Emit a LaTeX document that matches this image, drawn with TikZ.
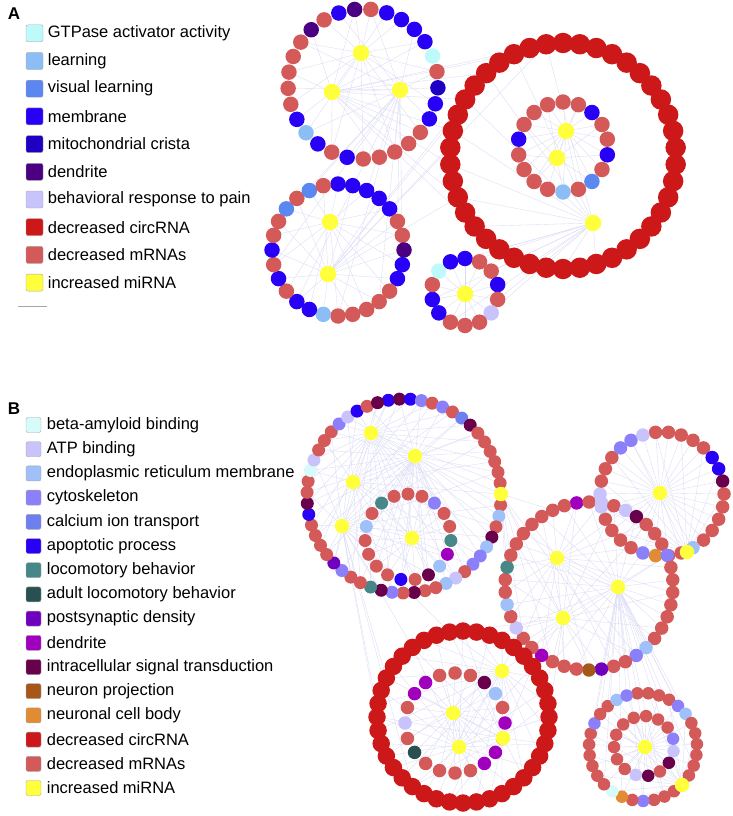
\documentclass[tikz,border=0pt]{standalone}
\usepackage{fontspec}
\setmainfont{Liberation Sans}
\usetikzlibrary{positioning,calc}
\pgfdeclarelayer{background}
\pgfsetlayers{background,main}

% panel A categories
\definecolor{gtp}{RGB}{190,250,250}
\definecolor{lrn}{RGB}{140,190,245}
\definecolor{vis}{RGB}{90,135,240}
\definecolor{mem}{RGB}{40,0,245}
\definecolor{mito}{RGB}{30,0,195}
\definecolor{dendA}{RGB}{75,0,130}
\definecolor{pain}{RGB}{200,195,250}
\definecolor{circ}{RGB}{204,24,24}
\definecolor{mrna}{RGB}{212,90,90}
\definecolor{mir}{RGB}{255,255,60}
% panel B categories
\definecolor{abeta}{RGB}{215,250,250}
\definecolor{atp}{RGB}{200,195,250}
\definecolor{er}{RGB}{160,192,250}
\definecolor{cyto}{RGB}{140,128,250}
\definecolor{calc}{RGB}{110,128,240}
\definecolor{apop}{RGB}{40,0,245}
\definecolor{loco}{RGB}{72,135,135}
\definecolor{aloco}{RGB}{40,80,80}
\definecolor{psd}{RGB}{110,0,190}
\definecolor{dendB}{RGB}{160,0,190}
\definecolor{sig}{RGB}{105,0,75}
\definecolor{proj}{RGB}{165,88,25}
\definecolor{body}{RGB}{225,140,50}
\definecolor{linkc}{RGB}{218,218,245}

\begin{document}
\begin{tikzpicture}[x=1pt,y=-1pt,
  gene/.style={circle,inner sep=0pt,minimum size=15.5pt},
  mirna/.style={circle,fill=mir,inner sep=0pt,minimum size=16.5pt},
  key/.style={rounded corners=2pt,draw=gray!70,line width=0.4pt,inner sep=0pt,minimum size=17pt},
  keytext/.style={inner sep=0pt,anchor=west,font=\fontsize{16.5}{18}\selectfont},
  panel/.style={inner sep=0pt,font=\bfseries\fontsize{17}{19}\selectfont},
  link/.style={draw=linkc,line width=0.35pt}]
\useasboundingbox (0,0) rectangle (733,816);

% ---------------- panel A
\node[panel] (labA) at (14,14) {A};
\foreach \c/\t [count=\i] in {gtp/GTPase activator activity, lrn/learning, vis/visual learning,
  mem/membrane, mito/mitochondrial crista, dendA/dendrite, pain/behavioral response to pain,
  circ/decreased circRNA, mrna/decreased mRNAs, mir/increased miRNA} {
  \node[key,fill=\c] (keyA\i) at (34.5,{33.3+(\i-1)*27.7}) {};
  \node[keytext,right=4.5pt of keyA\i] (txtA\i) {\t};
}
\coordinate (barL) at (18,306);
\coordinate (barR) at (47,306);
\draw[gray!70,line width=1pt] (barL) -- (barR);

% ring A1
\foreach \c [count=\i] in {mrna,mem,mem,mem,mem,gtp,mrna,mito,mem,mem,mrna,mrna,mrna,mrna,mrna,
  mem,mrna,mem,lrn,mem,mrna,mrna,mrna,mrna,mrna,dendA,mrna,mem,dendA} {
  \pgfmathsetmacro\a{-84+(\i-1)*(360/29)}
  \node[gene,fill=\c] (a1-\i) at ($(363,84)+(\a:75)$) {};
}
% ring A2, circRNAs
\foreach \i in {1,...,42} {
  \pgfmathsetmacro\a{-90+(\i-1)*(360/42)}
  \node[gene,fill=circ,minimum size=20.5pt] (a2-\i) at ($(563,156)+(\a:113)$) {};
}
% ring A3
\foreach \c [count=\i] in {mrna,mrna,mem,mrna,mrna,mem,mrna,vis,mrna,lrn,mrna,mrna,mrna,mrna,
  mem,mrna,mrna,mrna} {
  \pgfmathsetmacro\a{-90+(\i-1)*(360/18)}
  \node[gene,fill=\c] (a3-\i) at ($(563,147)+(\a:45)$) {};
}
% ring A4
\foreach \c [count=\i] in {mem,mem,mem,mem,mem,mrna,mrna,dendA,mem,mem,mrna,mrna,mrna,mrna,mrna,
  lrn,mem,mem,mrna,mem,mrna,mem,mrna,mrna,vis,mrna,vis,mrna} {
  \pgfmathsetmacro\a{-90+(\i-1)*(360/28)}
  \node[gene,fill=\c] (a4-\i) at ($(338,250)+(\a:66)$) {};
}
% ring A5
\foreach \c [count=\i] in {mem,mrna,mrna,mem,mrna,pain,mrna,mrna,mrna,mem,mem,mrna,gtp,mem} {
  \pgfmathsetmacro\a{-90+(\i-1)*(360/14)}
  \node[gene,fill=\c] (a5-\i) at ($(465,292)+(\a:33.5)$) {};
}
\node[mirna] (mA1) at (361,53) {};
\node[mirna] (mA2) at (332,92) {};
\node[mirna] (mA3) at (400,90) {};
\node[mirna] (mA4) at (566,131) {};
\node[mirna] (mA5) at (557,158) {};
\node[mirna] (mA6) at (593,223) {};
\node[mirna] (mA7) at (330,222) {};
\node[mirna] (mA8) at (328,274) {};
\node[mirna] (mA9) at (465,294) {};

% ---------------- panel B
\node[panel] (labB) at (14,409) {B};
\foreach \c/\t [count=\i] in {abeta/beta-amyloid binding, atp/ATP binding,
  er/endoplasmic reticulum membrane, cyto/cytoskeleton, calc/calcium ion transport,
  apop/apoptotic process, loco/locomotory behavior, aloco/adult locomotory behavior,
  psd/postsynaptic density, dendB/dendrite, sig/intracellular signal transduction,
  proj/neuron projection, body/neuronal cell body, circ/decreased circRNA,
  mrna/decreased mRNAs, mir/increased miRNA} {
  \node[key,fill=\c,minimum size=15pt] (keyB\i) at (33.5,{425+(\i-1)*24.2}) {};
  \node[keytext,right=5.5pt of keyB\i] (txtB\i) {\t};
}

% ring B1, outer and inner
\foreach \c [count=\i] in {apop,sig,apop,cyto,mrna,cyto,mrna,calc,sig,mrna,mrna,mrna,mrna,mrna,
  mrna,mrna,mrna,er,mrna,sig,er,cyto,cyto,mrna,atp,er,mrna,mrna,sig,mrna,cyto,sig,loco,mrna,
  mrna,cyto,psd,mrna,mrna,mrna,mrna,apop,sig,mrna,mrna,abeta,atp,mrna,mrna,mrna,cyto,atp,
  apop,mrna,sig} {
  \pgfmathsetmacro\a{-99.3+(\i-1)*(360/55)}
  \node[gene,fill=\c,minimum size=13pt] (b1-\i) at ($(404,496)+(\a:97)$) {};
}
\foreach \c [count=\i] in {mrna,mrna,cyto,mrna,mrna,loco,dendB,er,sig,mrna,apop,mrna,mrna,mrna,
  mrna,er,mrna,loco,mrna} {
  \pgfmathsetmacro\a{-90+(\i-1)*(360/19)}
  \node[gene,fill=\c,minimum size=13pt] (c1-\i) at ($(408,537)+(\a:43)$) {};
}
% ring B2
\foreach \c [count=\i] in {mrna,mrna,mrna,mrna,mrna,apop,apop,sig,mrna,mrna,mrna,mrna,mrna,er,
  mrna,mrna,body,cyto,mrna,mrna,mrna,mrna,atp,atp,mrna,mrna,mrna,cyto,cyto,atp} {
  \pgfmathsetmacro\a{-96+(\i-1)*(360/30)}
  \node[gene,fill=\c,minimum size=13.5pt] (b2-\i) at ($(662,494)+(\a:62)$) {};
}
% ring B3
\foreach \c [count=\i] in {dendB,mrna,atp,mrna,atp,sig,mrna,mrna,mrna,cyto,mrna,mrna,mrna,mrna,
  mrna,mrna,mrna,er,cyto,mrna,mrna,psd,proj,mrna,mrna,mrna,dendB,mrna,mrna,atp,mrna,er,mrna,
  mrna,loco,mrna,mrna,mrna,mrna,mrna,mrna,mrna} {
  \pgfmathsetmacro\a{-98.5+(\i-1)*(360/42)}
  \node[gene,fill=\c,minimum size=13.5pt] (b3-\i) at ($(589,586)+(\a:84)$) {};
}
% ring B4, circRNAs outside
\foreach \i in {1,...,40} {
  \pgfmathsetmacro\a{-90+(\i-1)*(360/40)}
  \node[gene,fill=circ,minimum size=17.5pt] (b4-\i) at ($(463,717)+(\a:86)$) {};
}
\foreach \c [count=\i] in {mrna,mrna,sig,er,mrna,dendB,mrna,dendB,dendB,mrna,mrna,mrna,mrna,
  aloco,mrna,atp,mrna,dendB,dendB,mrna} {
  \pgfmathsetmacro\a{-90+(\i-1)*(360/20)}
  \node[gene,fill=\c,minimum size=13.5pt] (c4-\i) at ($(455,723)+(\a:50)$) {};
}
% ring B5, outer and inner
\foreach \c [count=\i] in {mrna,mrna,mrna,mrna,cyto,er,mrna,mrna,mrna,mrna,mrna,mrna,mrna,mrna,
  mrna,mrna,cyto,mrna,body,abeta,mrna,mrna,mrna,mrna,mrna,mrna,cyto,mrna,mrna,er,cyto} {
  \pgfmathsetmacro\a{-96+(\i-1)*(360/31)}
  \node[gene,fill=\c,minimum size=12.5pt] (b5-\i) at ($(643,747)+(\a:54)$) {};
}
\foreach \c [count=\i] in {mrna,mrna,mrna,mrna,cyto,atp,sig,mrna,sig,atp,mrna,mrna,mrna,mrna,mrna} {
  \pgfmathsetmacro\a{-110+(\i-1)*(360/15)}
  \node[gene,fill=\c,minimum size=12.5pt] (c5-\i) at ($(644,746)+(\a:30)$) {};
}
\node[mirna,minimum size=14.5pt] (mB1) at (371,433) {};
\node[mirna,minimum size=14.5pt] (mB2) at (415,456) {};
\node[mirna,minimum size=14.5pt] (mB3) at (353,482) {};
\node[mirna,minimum size=14.5pt] (mB4) at (342,526) {};
\node[mirna,minimum size=14.5pt] (mB5) at (412,538) {};
\node[mirna,minimum size=14.5pt] (mB6) at (501,494) {};
\node[mirna,minimum size=14.5pt] (mB7) at (660,493) {};
\node[mirna,minimum size=14.5pt] (mB8) at (687,552) {};
\node[mirna,minimum size=14.5pt] (mB9) at (557,558) {};
\node[mirna,minimum size=14.5pt] (mB10) at (618,587) {};
\node[mirna,minimum size=14.5pt] (mB11) at (563,618) {};
\node[mirna,minimum size=14.5pt] (mB12) at (453,713) {};
\node[mirna,minimum size=14.5pt] (mB13) at (459,747) {};
\node[mirna,minimum size=14.5pt] (mB14) at (502,671) {};
\node[mirna,minimum size=14.5pt] (mB15) at (503,738) {};
\node[mirna,minimum size=14.5pt] (mB16) at (645,747) {};
\node[mirna,minimum size=14.5pt] (mB17) at (682,785) {};

% faint interactions behind the nodes
\begin{pgfonlayer}{background}
\foreach \i in {1,3,...,29} \draw[link] (mA1) -- (a1-\i);
\foreach \i in {2,5,...,29} \draw[link] (mA2) -- (a1-\i);
\foreach \i in {1,4,...,29} \draw[link] (mA3) -- (a1-\i);
\foreach \i in {1,...,18} \draw[link] (mA4) -- (a3-\i);
\foreach \i in {2,4,...,18} \draw[link] (mA5) -- (a3-\i);
\foreach \i in {20,22,...,42} \draw[link] (mA6) -- (a2-\i);
\foreach \i in {1,3,...,28} \draw[link] (mA7) -- (a4-\i);
\foreach \i in {2,4,...,28} \draw[link] (mA8) -- (a4-\i);
\foreach \i in {1,...,14} \draw[link] (mA9) -- (a5-\i);
\foreach \i in {28,30,...,42} \draw[link] (mA2) -- (a2-\i);
\foreach \i in {30,33,...,42} \draw[link] (mA8) -- (a2-\i);
\foreach \i in {1,3,...,14} \draw[link] (mA6) -- (a5-\i);
\foreach \i in {3,6,...,28} \draw[link] (mA3) -- (a4-\i);
\foreach \i in {1,3,...,55} \draw[link] (mB1) -- (b1-\i);
\foreach \i in {2,4,...,55} \draw[link] (mB2) -- (b1-\i);
\foreach \i in {1,4,...,55} \draw[link] (mB3) -- (b1-\i);
\foreach \i in {2,5,...,55} \draw[link] (mB4) -- (b1-\i);
\foreach \i in {1,...,19} \draw[link] (mB5) -- (c1-\i);
\foreach \i in {1,3,...,19} \draw[link] (mB2) -- (c1-\i);
\foreach \i in {1,...,30} \draw[link] (mB7) -- (b2-\i);
\foreach \i in {1,3,...,30} \draw[link] (mB8) -- (b2-\i);
\foreach \i in {1,3,...,42} \draw[link] (mB9) -- (b3-\i);
\foreach \i in {2,4,...,42} \draw[link] (mB10) -- (b3-\i);
\foreach \i in {1,4,...,42} \draw[link] (mB11) -- (b3-\i);
\foreach \i in {1,...,20} \draw[link] (mB12) -- (c4-\i);
\foreach \i in {1,3,...,40} \draw[link] (mB13) -- (b4-\i);
\foreach \i in {2,4,...,40} \draw[link] (mB14) -- (b4-\i);
\foreach \i in {1,4,...,40} \draw[link] (mB15) -- (b4-\i);
\foreach \i in {1,...,15} \draw[link] (mB16) -- (c5-\i);
\foreach \i in {1,3,...,31} \draw[link] (mB16) -- (b5-\i);
\foreach \i in {2,4,...,31} \draw[link] (mB17) -- (b5-\i);
\foreach \i in {25,28,...,40} \draw[link] (mB4) -- (b4-\i);
\foreach \i in {1,3,...,12} \draw[link] (mB11) -- (b4-\i);
\foreach \i in {1,3,...,31} \draw[link] (mB10) -- (b5-\i);
\foreach \i in {20,23,...,42} \draw[link] (mB6) -- (b3-\i);
\end{pgfonlayer}
\end{tikzpicture}
\end{document}
